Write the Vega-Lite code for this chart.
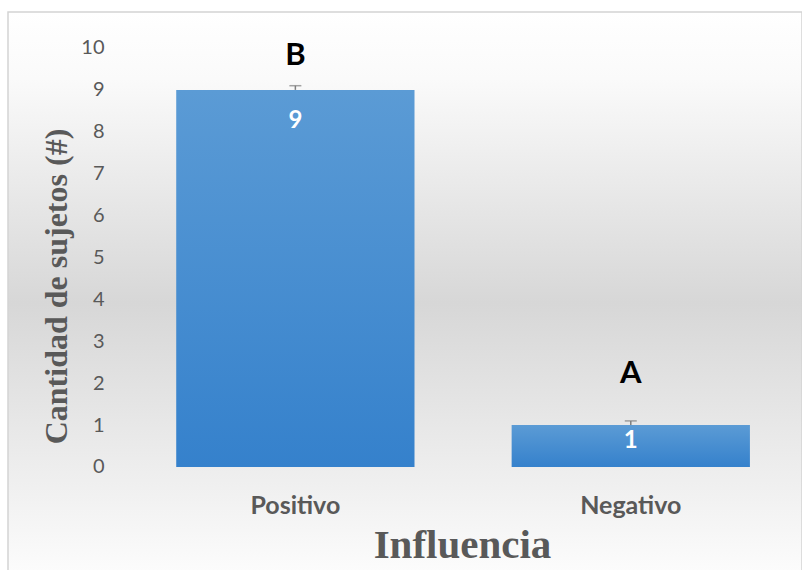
{
  "$schema": "https://vega.github.io/schema/vega-lite/v6.json",
  "width": 794,
  "height": 560,
  "autosize": "none",
  "padding": {"left": 8, "top": 12, "right": 0, "bottom": 0},
  "background": "white",
  "config": {
    "view": {
      "stroke": "#d4d4d4",
      "strokeWidth": 1.5,
      "fill": {
        "gradient": "linear",
        "x1": 0, "y1": 0, "x2": 0, "y2": 1,
        "stops": [
          {"offset": 0, "color": "#ffffff"},
          {"offset": 0.12, "color": "#fafafa"},
          {"offset": 0.52, "color": "#d7d7d7"},
          {"offset": 0.85, "color": "#f0f0f0"},
          {"offset": 1, "color": "#fcfcfc"}
        ]
      }
    }
  },
  "data": {
    "values": [
      {"influencia": "Positivo", "sujetos": 9, "error_sup": 9.1, "letra": "B", "letra_pos": 9.8, "etiqueta_pos": 8.26},
      {"influencia": "Negativo", "sujetos": 1, "error_sup": 1.1, "letra": "A", "letra_pos": 2.22, "etiqueta_pos": 0.62}
    ]
  },
  "encoding": {
    "x": {
      "field": "influencia",
      "type": "nominal",
      "sort": ["Positivo", "Negativo"],
      "scale": {"paddingInner": 0.2896, "paddingOuter": 0.3284, "align": 0.7636},
      "axis": {
        "orient": "bottom",
        "offset": -59,
        "domain": false,
        "ticks": false,
        "tickSize": 0,
        "grid": false,
        "labelAngle": 0,
        "labelPadding": 0,
        "labelBaseline": "alphabetic",
        "labelFont": "Lato",
        "labelFontWeight": "bold",
        "labelFontSize": 25,
        "labelColor": "#595959",
        "title": "Influencia",
        "titleFont": "Liberation Serif",
        "titleFontWeight": "bold",
        "titleFontSize": 41,
        "titleColor": "#595959",
        "titleX": 454,
        "titleY": 44,
        "titleAlign": "center",
        "titleBaseline": "alphabetic"
      }
    }
  },
  "layer": [
    {
      "mark": {
        "type": "bar",
        "fill": {
          "gradient": "linear",
          "x1": 0, "y1": 0, "x2": 0, "y2": 1,
          "stops": [
            {"offset": 0, "color": "#5b9bd5"},
            {"offset": 1, "color": "#3581cc"}
          ]
        }
      },
      "encoding": {
        "y": {
          "field": "sujetos",
          "type": "quantitative",
          "scale": {"domain": [-2.506, 10.859], "nice": false, "zero": false},
          "axis": {
            "orient": "left",
            "offset": -96,
            "values": [0, 1, 2, 3, 4, 5, 6, 7, 8, 9, 10],
            "domain": false,
            "ticks": false,
            "tickSize": 0,
            "grid": false,
            "labelPadding": 0,
            "labelFont": "Lato",
            "labelFontSize": 20,
            "labelColor": "#595959",
            "title": "Cantidad de sujetos (#)",
            "titleFont": "Liberation Serif",
            "titleFontWeight": "bold",
            "titleFontSize": 32,
            "titleColor": "#595959",
            "titleAngle": 270,
            "titleX": -48,
            "titleY": 274,
            "titleAlign": "center",
            "titleBaseline": "middle"
          }
        }
      }
    },
    {
      "mark": {"type": "rule", "color": "#7f7f7f", "strokeWidth": 1.5},
      "encoding": {
        "y": {"field": "sujetos", "type": "quantitative"},
        "y2": {"field": "error_sup"}
      }
    },
    {
      "mark": {"type": "tick", "color": "#7f7f7f", "size": 12, "thickness": 1.5},
      "encoding": {
        "y": {"field": "error_sup", "type": "quantitative"}
      }
    },
    {
      "mark": {"type": "text", "font": "Lato", "fontWeight": "bold", "fontSize": 24, "color": "white", "baseline": "middle"},
      "encoding": {
        "y": {"field": "etiqueta_pos", "type": "quantitative"},
        "text": {"field": "sujetos", "type": "quantitative"}
      }
    },
    {
      "mark": {"type": "text", "font": "Lato", "fontWeight": "bold", "fontSize": 31, "color": "black", "baseline": "middle"},
      "encoding": {
        "y": {"field": "letra_pos", "type": "quantitative"},
        "text": {"field": "letra", "type": "nominal"}
      }
    }
  ]
}
